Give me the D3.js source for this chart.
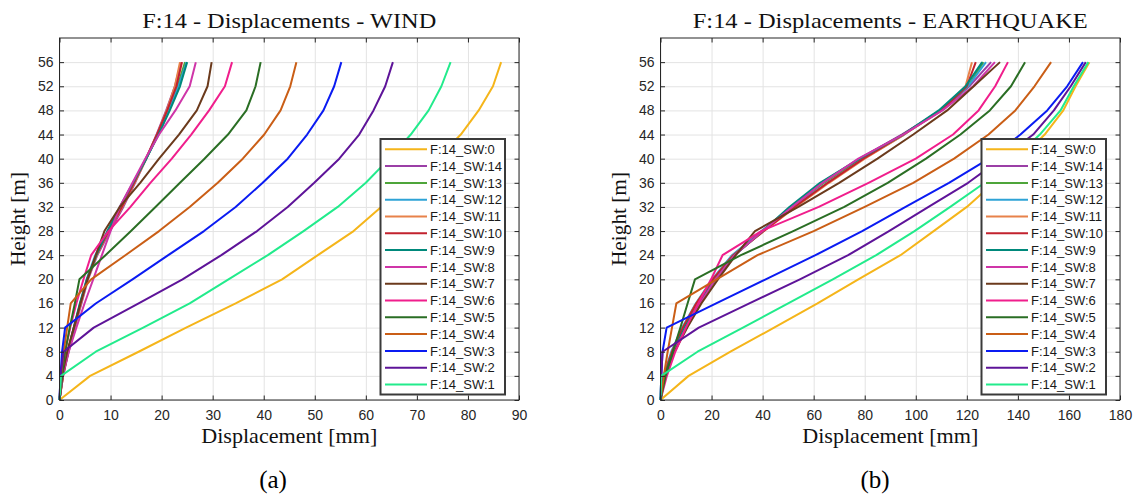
<!DOCTYPE html>
<html>
<head>
<meta charset="utf-8">
<script src="https://cdn.jsdelivr.net/npm/d3@7/dist/d3.min.js"></script>
<style>
  body { margin: 0; background: #fff; }
  svg { display: block; }
</style>
</head>
<body>
<svg id="chart"></svg>
<script>
var heights = [0, 4, 8, 12, 16, 20, 24, 28, 32, 36, 40, 44, 48, 52, 56];
var heightTicks = [0, 4, 8, 12, 16, 20, 24, 28, 32, 36, 40, 44, 48, 52, 56];
var windTicks = [0, 10, 20, 30, 40, 50, 60, 70, 80, 90];
var quakeTicks = [0, 20, 40, 60, 80, 100, 120, 140, 160, 180];

// legend order = plot order
var seriesNames = ['F:14_SW:0', 'F:14_SW:14', 'F:14_SW:13', 'F:14_SW:12', 'F:14_SW:11',
  'F:14_SW:10', 'F:14_SW:9', 'F:14_SW:8', 'F:14_SW:7', 'F:14_SW:6', 'F:14_SW:5',
  'F:14_SW:4', 'F:14_SW:3', 'F:14_SW:2', 'F:14_SW:1'];
var seriesColors = ['#F5B51A', '#9B3FA6', '#4EA53A', '#2EA3D6', '#E8824A',
  '#C2222E', '#00897B', '#CF35A8', '#6B3A1C', '#F01E8C', '#2A6E24',
  '#CA5E16', '#0A1BF2', '#5E1499', '#22EB8C'];

// WIND displacements [mm] at each height
var wind_sw0  = [0, 6, 15.5, 24.8, 34.5, 43.6, 50.6, 57.6, 63, 68.5, 74, 78.6, 82.1, 84.9, 86.5];
var wind_sw1  = [0, 0.3, 7.1, 16.4, 25.5, 33.1, 40.8, 47.8, 54.5, 60, 64.6, 68.8, 72.3, 74.8, 76.6];
var wind_sw2  = [0, 0.2, 0.8, 6.7, 15.5, 24.1, 31.7, 38.7, 44.7, 49.9, 54.8, 58.7, 61.5, 63.8, 65.3];
var wind_sw3  = [0, 0.2, 0.5, 1.1, 7.1, 14.3, 21.3, 28.3, 34.5, 39.8, 44.7, 48.5, 51.7, 53.8, 55.2];
var wind_sw4  = [0, 0.3, 0.8, 1.5, 2.2, 6.2, 12.9, 19.5, 25.5, 31, 35.9, 40.1, 43.3, 45.2, 46.4];
var wind_sw5  = [0, 0.5, 1.1, 2.0, 3.0, 3.9, 9.0, 14.0, 18.8, 23.6, 28.4, 33.0, 36.6, 38.4, 39.4];
var wind_sw6  = [0, 0.4, 1.1, 2.1, 3.3, 4.7, 6.2, 9.6, 13.9, 17.8, 22, 25.8, 29.3, 32.4, 33.8];
var wind_sw7  = [0, 0.5, 1.5, 2.8, 4.1, 5.5, 7.1, 8.8, 11.8, 15.8, 19.5, 23.4, 26.9, 29, 29.8];
var wind_sw8  = [0, 0.6, 1.8, 3.3, 4.9, 6.6, 8.3, 10.0, 11.8, 14.3, 16.8, 19.5, 22.7, 25.5, 26.7];
var wind_sw9  = [0, 0.6, 1.6, 2.8, 4.0, 5.4, 7.2, 9.4, 11.8, 14.4, 17.0, 19.4, 21.6, 23.6, 25.0];
var wind_sw10 = [0, 0.7, 1.7, 2.9, 4.1, 5.4, 7.2, 9.6, 12.2, 14.6, 16.9, 19.1, 21.1, 22.9, 24.0];
var wind_sw11 = [0, 0.7, 1.7, 2.9, 4.2, 5.5, 7.3, 9.7, 12.3, 14.7, 17.0, 19.1, 21.0, 22.6, 23.6];
var wind_sw12 = [0, 0.6, 1.6, 2.8, 4.0, 5.3, 7.0, 9.4, 12.0, 14.5, 17.0, 19.3, 21.4, 23.3, 24.9];
var wind_sw13 = [0, 0.6, 1.7, 2.9, 4.1, 5.4, 7.2, 9.5, 12.1, 14.6, 17.0, 19.3, 21.3, 23.1, 24.6];
var wind_sw14 = [0, 0.7, 1.8, 3.0, 4.3, 5.6, 7.4, 9.9, 12.5, 14.8, 17.0, 19.0, 20.9, 22.6, 23.8];

// EARTHQUAKE displacements [mm] at each height
var quake_sw0  = [0, 11, 27.4, 44.5, 61.5, 77.5, 94, 107, 120, 130.6, 141, 150.5, 157.8, 162.6, 168];
var quake_sw1  = [0, 0.3, 14.5, 32.3, 50, 67.5, 84.5, 99.5, 113.5, 127, 138.5, 148.6, 156.7, 161.9, 167.6];
var quake_sw2  = [0, 0.3, 0.8, 15, 34.8, 54.6, 73.5, 89.5, 105, 120.5, 133.5, 146, 154.1, 160.7, 166.6];
var quake_sw3  = [0, 0.3, 0.8, 2.4, 21.8, 41.2, 60.7, 79, 96, 113, 128.7, 141, 151.5, 159.3, 165.5];
var quake_sw4  = [0, 1.3, 2.8, 4.5, 6.2, 22, 38, 60, 80, 99, 115, 128.5, 139, 146.5, 153];
var quake_sw5  = [0, 2.0, 4.8, 7.8, 10.6, 13.5, 31.5, 52, 72, 89, 104, 117.5, 129, 137.3, 142.8];
var quake_sw6  = [0, 2.5, 5.8, 10, 14.8, 19.8, 24.3, 39.5, 62, 81.5, 100, 114.6, 124.6, 131.1, 136.1];
var quake_sw7  = [0, 1.5, 5.5, 10.5, 16, 22.5, 29.5, 37, 54, 70, 85, 99, 112.3, 122.7, 133];
var quake_sw8  = [0, 1.8, 5.3, 10, 15.5, 21.5, 29, 40, 51.5, 63.5, 77.5, 95, 110.5, 122.5, 131];
var quake_sw9  = [0, 1.5, 5, 9.5, 15, 21.5, 29, 40, 50.5, 62.5, 78, 95, 109, 119.5, 126];
var quake_sw10 = [0, 1.3, 4.5, 8.8, 14, 20.5, 28.5, 40.5, 52.5, 65.5, 79.5, 95, 110, 120, 123.5];
var quake_sw11 = [0, 1.3, 4.5, 8.8, 14, 20.5, 28.5, 40.5, 53, 66, 80, 95.5, 110, 119.5, 122];
var quake_sw12 = [0, 1.2, 4.2, 8.5, 13.8, 20.2, 28, 39.5, 52, 65.5, 79.5, 95.5, 109.5, 120.5, 127.5];
var quake_sw13 = [0, 1.4, 4.8, 9.2, 14.6, 21, 29, 40, 51.5, 64, 78.5, 95, 109.5, 120.5, 126.5];
var quake_sw14 = [0, 1.4, 4.8, 9.2, 14.6, 21, 29, 40, 51, 63, 78, 94.5, 110, 121, 129.5];

var windSeries = [wind_sw0, wind_sw14, wind_sw13, wind_sw12, wind_sw11, wind_sw10, wind_sw9,
  wind_sw8, wind_sw7, wind_sw6, wind_sw5, wind_sw4, wind_sw3, wind_sw2, wind_sw1];
var quakeSeries = [quake_sw0, quake_sw14, quake_sw13, quake_sw12, quake_sw11, quake_sw10, quake_sw9,
  quake_sw8, quake_sw7, quake_sw6, quake_sw5, quake_sw4, quake_sw3, quake_sw2, quake_sw1];

var width = 1135;
var height = 495;
var axisColor = '#262626';
var gridColor = '#e3e3e3';
var tickLen = 4.5; // inward ticks
var serif = '"Liberation Serif", "DejaVu Serif", "Noto Serif", serif';
var sans = '"Liberation Sans", Arial, sans-serif';

var svg = d3.select('#chart')
  .attr('width', width)
  .attr('height', height)
  .attr('viewBox', '0 0 ' + width + ' ' + height);

svg.append('rect').attr('width', width).attr('height', height).attr('fill', '#fff');

var panels = [
  { left: 59.5, right: 519, top: 38, bottom: 400, xMax: 90, xTicks: windTicks, series: windSeries,
    title: 'F:14 - Displacements - WIND', titleWidth: 294, caption: '(a)', captionX: 273 },
  { left: 660.5, right: 1120, top: 38, bottom: 400, xMax: 180, xTicks: quakeTicks, series: quakeSeries,
    title: 'F:14 - Displacements - EARTHQUAKE', titleWidth: 395, caption: '(b)', captionX: 875 }
];

// serif label sized so its width matches the reference
function fitText(sel, target, size) {
  sel.style('font-family', serif).style('font-size', size + 'px');
  var w = sel.node().getComputedTextLength();
  var s = Math.max(16, Math.min(22, size * target / w));
  sel.style('font-size', s + 'px');
  sel.attr('textLength', target).attr('lengthAdjust', 'spacingAndGlyphs');
}

function drawPanel(p) {
  var g = svg.append('g');
  var x = d3.scaleLinear().domain([0, p.xMax]).range([p.left, p.right]);
  var y = d3.scaleLinear().domain([0, 60]).range([p.bottom, p.top]);
  var plotH = p.bottom - p.top;
  var plotW = p.right - p.left;

  // grid
  g.append('g')
    .attr('transform', 'translate(0,' + p.bottom + ')')
    .call(d3.axisBottom(x).tickValues(p.xTicks).tickSize(-plotH).tickFormat(''))
    .call(function(s){ s.select('.domain').remove(); })
    .selectAll('line').attr('stroke', gridColor).attr('stroke-width', 1);
  g.append('g')
    .attr('transform', 'translate(' + p.left + ',0)')
    .call(d3.axisLeft(y).tickValues(heightTicks).tickSize(-plotW).tickFormat(''))
    .call(function(s){ s.select('.domain').remove(); })
    .selectAll('line').attr('stroke', gridColor).attr('stroke-width', 1);

  // lines
  var line = d3.line()
    .x(function(d){ return x(d[0]); })
    .y(function(d){ return y(d[1]); });

  p.series.forEach(function(vals, i){
    var pts = vals.map(function(v, k){ return [v, heights[k]]; });
    g.append('path')
      .datum(pts)
      .attr('fill', 'none')
      .attr('stroke', seriesColors[i])
      .attr('stroke-width', 2)
      .attr('stroke-linejoin', 'round')
      .attr('d', line);
  });

  // axes (ticks inward on all four sides)
  var xb = g.append('g')
    .attr('transform', 'translate(0,' + p.bottom + ')')
    .call(d3.axisBottom(x).tickValues(p.xTicks).tickSize(-tickLen).tickPadding(10));
  var yl = g.append('g')
    .attr('transform', 'translate(' + p.left + ',0)')
    .call(d3.axisLeft(y).tickValues(heightTicks).tickSize(-tickLen).tickPadding(6));
  var xt = g.append('g')
    .attr('transform', 'translate(0,' + p.top + ')')
    .call(d3.axisTop(x).tickValues(p.xTicks).tickSize(-tickLen).tickFormat(''));
  var yr = g.append('g')
    .attr('transform', 'translate(' + p.right + ',0)')
    .call(d3.axisRight(y).tickValues(heightTicks).tickSize(-tickLen).tickFormat(''));

  [xb, yl, xt, yr].forEach(function(a){
    a.select('.domain').remove();
    a.selectAll('line').attr('stroke', axisColor).attr('stroke-width', 1);
    a.selectAll('text').attr('fill', axisColor).style('font-family', sans).style('font-size', '14px');
  });

  g.append('rect')
    .attr('x', p.left).attr('y', p.top)
    .attr('width', plotW).attr('height', plotH)
    .attr('fill', 'none')
    .attr('stroke', axisColor)
    .attr('stroke-width', 1);

  // legend
  var lg = g.append('g').attr('transform', 'translate(' + (p.right - 138.5) + ',139)');
  lg.append('rect')
    .attr('width', 124.5).attr('height', 255.5)
    .attr('fill', '#fff')
    .attr('stroke', '#3a3a3a')
    .attr('stroke-width', 2);
  var rows = lg.selectAll('g.row')
    .data(seriesNames)
    .enter()
    .append('g')
    .attr('class', 'row')
    .attr('transform', function(d, i){ return 'translate(0,' + (10.3 + i * 16.8) + ')'; });
  rows.append('line')
    .attr('x1', 4.5).attr('x2', 46.5)
    .attr('stroke', function(d, i){ return seriesColors[i]; })
    .attr('stroke-width', 2);
  rows.append('text')
    .attr('x', 49.5)
    .attr('dy', '0.36em')
    .attr('fill', '#1a1a1a')
    .style('font-family', sans)
    .style('font-size', '13px')
    .text(function(d){ return d; });

  // texts
  var cx = (p.left + p.right) / 2;
  var title = g.append('text')
    .attr('x', cx).attr('y', 27.5)
    .attr('text-anchor', 'middle')
    .attr('fill', '#111')
    .text(p.title);
  fitText(title, p.titleWidth, 21);

  var xlab = g.append('text')
    .attr('x', cx).attr('y', 443)
    .attr('text-anchor', 'middle')
    .attr('fill', '#111')
    .text('Displacement [mm]');
  fitText(xlab, 176, 21);

  var ylab = g.append('text')
    .attr('transform', 'translate(' + (p.left - 34.5) + ',' + ((p.top + p.bottom) / 2) + ') rotate(-90)')
    .attr('text-anchor', 'middle')
    .attr('fill', '#111')
    .text('Height [m]');
  fitText(ylab, 94, 21);

  g.append('text')
    .attr('x', p.captionX).attr('y', 488)
    .attr('text-anchor', 'middle')
    .attr('fill', '#000')
    .style('font-family', serif).style('font-size', '25px')
    .text(p.caption);
}

panels.forEach(drawPanel);
</script>
</body>
</html>
